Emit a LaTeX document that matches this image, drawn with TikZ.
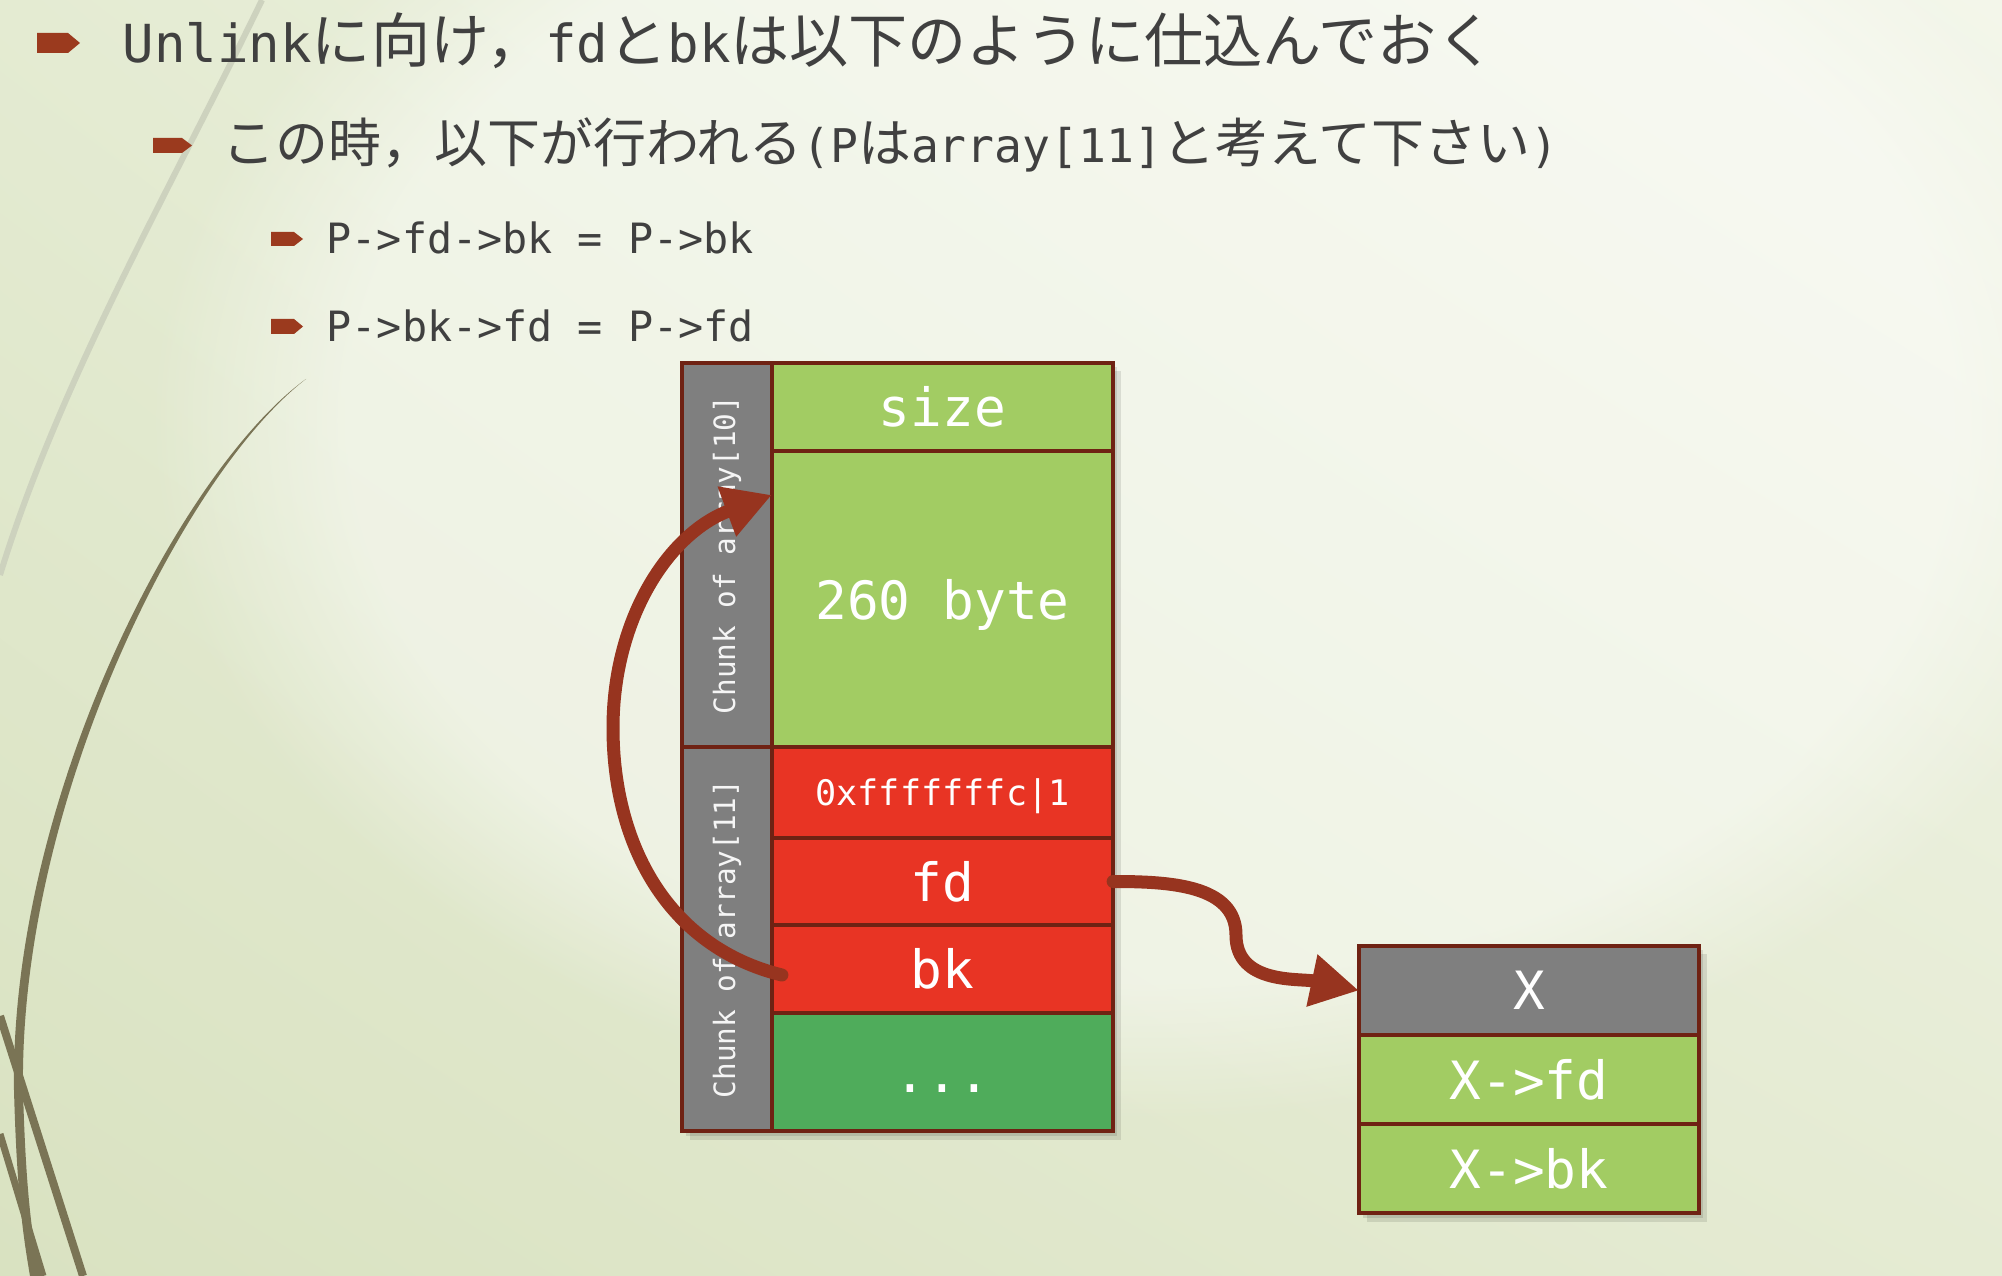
\documentclass[tikz,border=0pt]{standalone}
\usepackage{fontspec}
\newfontfamily\cjkjp{Noto Sans CJK JP}
\newfontfamily\dmono{DejaVu Sans Mono}
\usetikzlibrary{arrows.meta,calc,shadings,fadings}
\definecolor{bgUL}{HTML}{E4EBD2}
\definecolor{bgUR}{HTML}{F3F6EA}
\definecolor{bgLL}{HTML}{D9E2C1}
\definecolor{bgLR}{HTML}{E5EBD3}
\definecolor{lg}{HTML}{A2CC63}
\definecolor{rd}{HTML}{E83424}
\definecolor{dg}{HTML}{4FAC5B}
\definecolor{gy}{HTML}{7F7F7F}
\definecolor{bord}{HTML}{6F2213}
\definecolor{arrc}{HTML}{97341F}
\definecolor{bul}{HTML}{9B3A1E}
\definecolor{oliv}{HTML}{7A7455}
\definecolor{lightln}{HTML}{CDD2BE}
\definecolor{txt}{HTML}{404040}
\newcommand\mA[1]{{\dmono\fontsize{14.9pt}{17pt}\selectfont #1}}
\newcommand\jA[1]{{\cjkjp\fontsize{16.8pt}{20pt}\selectfont #1}}
\newcommand\mB[1]{{\dmono\fontsize{13.2pt}{16pt}\selectfont #1}}
\newcommand\jB[1]{{\cjkjp\fontsize{15.05pt}{19pt}\selectfont #1}}
\tikzset{
  cell/.style={draw=bord, line width=1.1pt, minimum width=34.1mm, inner sep=0pt, outer sep=0pt,
    text=white, font=\dmono\fontsize{15pt}{18pt}\selectfont},
  sidecell/.style={cell, fill=gy, rotate=90, minimum width=38.4mm, minimum height=9mm,
    font=\dmono\fontsize{8.35pt}{10pt}\selectfont, text=white!92!gray},
  line/.style={anchor=base west, inner sep=0pt, text=txt},
  arr/.style={draw=arrc, line width=1.3mm, line cap=round, -{Triangle[length=4.8mm, width=5mm]}},
  bulletmark/.style={fill=bul}
}
\begin{document}
\begin{tikzpicture}[x=0.01cm, y=0.01cm]
\useasboundingbox (0,0) rectangle (2002,-1276);
% background
\shade[upper left=bgUL, upper right=bgUR, lower left=bgLL, lower right=bgLR] (0,0) rectangle (2002,-1276);
\fill[white, opacity=0.45, path fading=circle with fuzzy edge 20 percent] (1150,-420) ellipse (1000 and 700);
% decorative curves
\draw[lightln, line width=0.6mm] (262,0) .. controls (170,-190) and (60,-380) .. (0,-575);
\fill[oliv] (306,-379) .. controls (180,-470) and (10,-800) .. (14,-1090)
  .. controls (17,-1200) and (24,-1240) .. (30,-1276) -- (40,-1276)
  .. controls (33,-1240) and (26,-1200) .. (23,-1090)
  .. controls (19,-800) and (185,-472) .. (306,-379) -- cycle;
\draw[oliv, line width=0.8mm] (0,-1016) -- (83,-1276);
\draw[oliv, line width=0.7mm] (0,-1134) -- (43,-1276);
% bullets
\fill[bulletmark] (37,-33) -- (68,-33) -- (80,-43) -- (68,-53) -- (37,-53) -- cycle;
\fill[bulletmark] (153,-138) -- (182,-138) -- (192,-145.5) -- (182,-153) -- (153,-153) -- cycle;
\fill[bulletmark] (271,-232) -- (294,-232) -- (303,-239) -- (294,-246) -- (271,-246) -- cycle;
\fill[bulletmark] (271,-319) -- (294,-319) -- (303,-326.5) -- (294,-334) -- (271,-334) -- cycle;
\node[line] (l1) at (122,-63) {\mA{Unlink}\jA{に向け，}\mA{fd}\jA{と}\mA{bk}\jA{は以下のように仕込んでおく}};
\node[line] (l2) at (222,-163) {\jB{この時，以下が行われる}\mB{(P}\jB{は}\mB{array[11]}\jB{と考えて下さい}\mB{)}};
\node[line, font=\dmono\fontsize{11.87pt}{14pt}\selectfont] (l3) at (326,-254) {P->fd->bk = P->bk};
\node[line, font=\dmono\fontsize{11.87pt}{14pt}\selectfont] (l4) at (326,-342) {P->bk->fd = P->fd};
% shadows
\fill[black, opacity=0.10] (690,-371) rectangle (1121,-1140);
\fill[black, opacity=0.10] (686,-367) rectangle (1117,-1136);
\fill[black, opacity=0.10] (1367,-954) rectangle (1707,-1222);
\fill[black, opacity=0.10] (1363,-950) rectangle (1703,-1218);
% main chunk
\node[sidecell] (g10) at (727,-555) {Chunk of array[10]};
\node[sidecell] (g11) at (727,-939) {Chunk of array[11]};
\node[cell, fill=lg, minimum height=8.8mm] (size) at (942.5,-407) {size};
\node[cell, fill=lg, minimum height=29.6mm, text depth=0pt] (byte) at (942.5,-599) {260 byte};
\node[cell, fill=rd, minimum height=9.1mm, text depth=0pt, font=\dmono\fontsize{10pt}{12pt}\selectfont] (head) at (942.5,-792.5) {0xfffffffc|1};
\node[cell, fill=rd, minimum height=8.7mm] (fd) at (942.5,-881.5) {fd};
\node[cell, fill=rd, minimum height=8.8mm] (bk) at (942.5,-969) {bk};
\node[cell, fill=dg, minimum height=11.8mm] (dots) at (942.5,-1072) {};
\node[text=white, inner sep=0pt, font=\dmono\fontsize{15pt}{18pt}\selectfont] (dotslabel) at (942.5,-1089) {...};
% X chunk
\node[cell, fill=gy, minimum width=34mm, minimum height=8.9mm] (xn) at (1529,-990.5) {X};
\node[cell, fill=lg, minimum width=34mm, minimum height=8.9mm] (xfd) at (1529,-1079.5) {X->fd};
\node[cell, fill=lg, minimum width=34mm, minimum height=8.9mm] (xbk) at (1529,-1168.5) {X->bk};
% arrows
\coordinate (a1s) at ($(bk.west)+(10,-6)$);
\coordinate (a1m) at (613,-728);
\coordinate (a1e) at ($(byte.north west)+(0,-44)$);
\draw[arr] (a1s) .. controls (668,-947) and (613,-845) .. (a1m)
  .. controls (613,-618) and (669,-533) .. (a1e);
\coordinate (a2m) at (1236,-935);
\draw[arr] (fd.east) .. controls (1170,-881.5) and (1236,-885) .. (a2m)
  .. controls (1236,-985) and (1300,-978) .. (xn.west);
\end{tikzpicture}
\end{document}
